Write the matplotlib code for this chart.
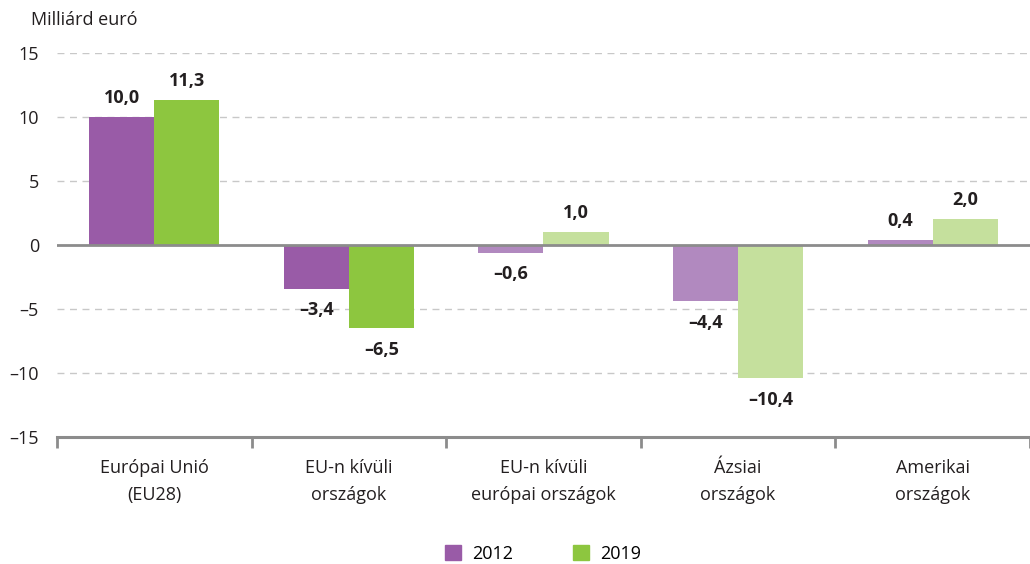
import numpy as np
import matplotlib.pyplot as plt
from matplotlib.patches import Patch

plt.rcParams['font.family'] = ['Open Sans', 'DejaVu Sans']

categories = ['Európai Unió\n(EU28)', 'EU-n kívüli\nországok', 'EU-n kívüli\neurópai országok',
              'Ázsiai\nországok', 'Amerikai\nországok']
v2012 = [10.0, -3.4, -0.6, -4.4, 0.4]
v2019 = [11.3, -6.5, 1.0, -10.4, 2.0]

dark_purple = '#995BA7'
dark_green = '#8DC63F'
light_purple = '#B189BF'
light_green = '#C5E09D'
c2012 = [dark_purple, dark_purple, light_purple, light_purple, light_purple]
c2019 = [dark_green, dark_green, light_green, light_green, light_green]

fig = plt.figure(figsize=(10.3, 5.64), dpi=100)
ax = fig.add_axes([0.0553, 0.2252, 0.9447, 0.6808])

x = np.arange(len(categories))
w = 0.335
ax.bar(x - w / 2, v2012, w, color=c2012, zorder=3)
ax.bar(x + w / 2, v2019, w, color=c2019, zorder=3)

def fmt(v):
    s = f'{abs(v):.1f}'.replace('.', ',')
    return ('\u2013' + s) if v < 0 else s

for xs, vals in ((x - w / 2, v2012), (x + w / 2, v2019)):
    for xi, v in zip(xs, vals):
        off = 0.8 if v >= 0 else -1.0
        ax.text(xi, v + off, fmt(v), ha='center', va='bottom' if v >= 0 else 'top',
                fontsize=13, fontweight='bold', color='#231f20', zorder=4)

ax.set_xlim(-0.5, len(categories) - 0.5)
ax.set_ylim(-15, 15)
ax.set_yticks([-15, -10, -5, 0, 5, 10, 15])
ax.set_yticklabels(['\u201315', '\u201310', '\u20135', '0', '5', '10', '15'])
for yv in [-10, -5, 5, 10, 15]:
    ax.axhline(yv, color='#c8c8c8', lw=1, ls=(0, (5, 4)), zorder=1)
ax.axhline(0, color='#8c8c8c', lw=2, zorder=4)

for s in ['top', 'right', 'left']:
    ax.spines[s].set_visible(False)
ax.spines['bottom'].set_color('#8c8c8c')
ax.spines['bottom'].set_linewidth(2.2)

ax.tick_params(axis='y', length=0, labelsize=13, labelcolor='#231f20', pad=13)
ax.set_xticks(np.arange(-0.5, len(categories), 1.0))
ax.set_xticklabels([])
ax.tick_params(axis='x', length=8, width=2, color='#8c8c8c')
ax.set_xticks(x, minor=True)
ax.set_xticklabels(categories, minor=True, fontsize=13, color='#231f20', linespacing=1.6)
ax.tick_params(axis='x', which='minor', length=0, pad=16)

fig.text(0.03, 0.965, 'Milliárd euró', fontsize=13, color='#231f20', va='center')

handles = [Patch(color=dark_purple, label='2012'), Patch(color=dark_green, label='2019')]
fig.legend(handles=handles, loc='center', bbox_to_anchor=(0.527, 0.018), ncol=2, frameon=False,
           fontsize=13, handlelength=0.9, handleheight=0.9, columnspacing=3.3, handletextpad=0.6)

fig.savefig('out.png', dpi=100)
